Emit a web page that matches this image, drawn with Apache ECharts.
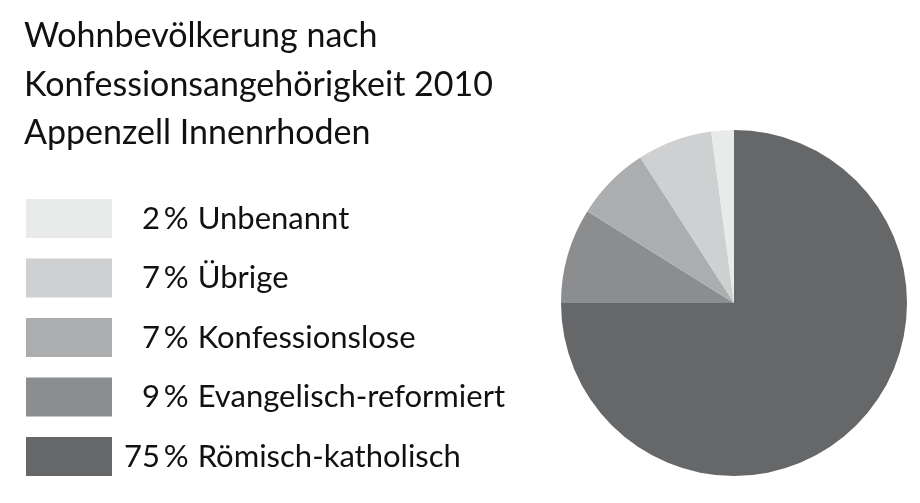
<!DOCTYPE html>
<html>
<head>
<meta charset="utf-8">
<script src="https://cdn.jsdelivr.net/npm/echarts@6/dist/echarts.min.js"></script>
<style>
  html, body { margin: 0; padding: 0; background: #fff; }
  #container1 { width: 920px; height: 503px; }
</style>
</head>
<body>
<div id="container1"></div>
<script>
var titleLines = ['Wohnbevölkerung nach', 'Konfessionsangehörigkeit 2010', 'Appenzell Innenrhoden'];
// pie order, clockwise from 12 o'clock
var names = ['Römisch-katholisch', 'Evangelisch-reformiert', 'Konfessionslose', 'Übrige', 'Unbenannt'];
var values = [75.0, 8.9, 7.0, 7.0, 2.1];
var colors = ['#666769', '#8c8d8f', '#acadaf', '#cfd0d1', '#e9eaea'];
var legendOrder = ['Unbenannt', 'Übrige', 'Konfessionslose', 'Evangelisch-reformiert', 'Römisch-katholisch'];

var fontName = 'Lato';
var dom1 = document.getElementById('container1');
var myChart1 = echarts.init(dom1, null, { renderer: 'canvas' });

var total = values.reduce(function (a, b) { return a + b; }, 0);
var pieData = [];
for (var i = 0; i < names.length; i++) {
    pieData.push({ name: names[i], value: values[i], itemStyle: { color: colors[i] } });
}

function pctText(name) {
    var p = String(Math.round(values[names.indexOf(name)] / total * 100));
    if (p.length < 2) p = '\u2007' + p;   // figure space keeps the digits right-aligned
    return p + '\u2009%';
}

var option1 = {
    backgroundColor: '#fff',
    animation: false,
    title: {
        text: titleLines.join('\n'),
        left: 19,
        top: 7,
        textStyle: {
            fontFamily: fontName,
            fontSize: 34,
            fontWeight: 'normal',
            color: '#111',
            lineHeight: 48.5
        }
    },
    legend: {
        orient: 'vertical',
        left: 21,
        top: 194,
        data: legendOrder,
        icon: 'rect',
        itemWidth: 86,
        itemHeight: 39,
        itemGap: 20.5,
        selectedMode: false,
        formatter: function (name) {
            return '{p|' + pctText(name) + '}{n|' + name + '}';
        },
        textStyle: {
            rich: {
                p: {
                    fontFamily: fontName, fontSize: 31, color: '#111',
                    padding: [0, 0, 0, 7], lineHeight: 39
                },
                n: {
                    fontFamily: fontName, fontSize: 31, color: '#111',
                    padding: [0, 0, 0, 9], lineHeight: 39
                }
            }
        }
    },
    series: [
        {
            type: 'pie',
            center: [734, 303],
            radius: 173,
            startAngle: 90,
            clockwise: true,
            label: { show: false },
            labelLine: { show: false },
            emphasis: { disabled: true },
            itemStyle: { borderWidth: 0 },
            data: pieData
        }
    ]
};
myChart1.setOption(option1);
</script>
</body>
</html>
